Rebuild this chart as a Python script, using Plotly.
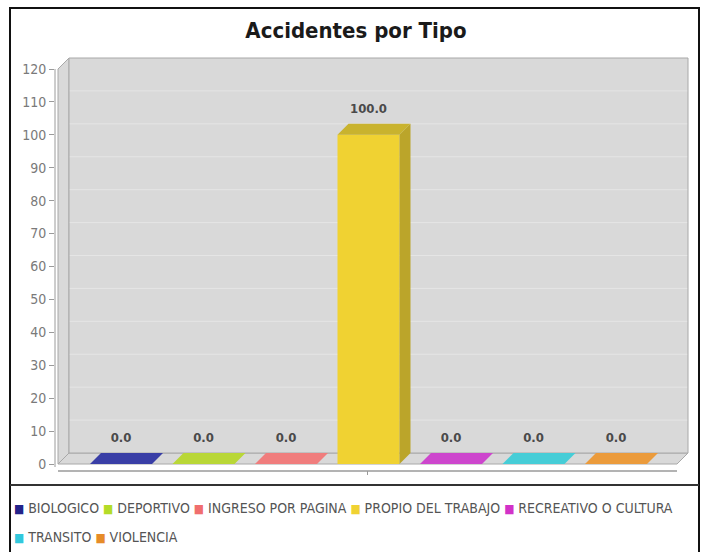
import plotly.graph_objects as go

# ---------------- data ----------------
title_text = "Accidentes por Tipo"
series = ["BIOLOGICO", "DEPORTIVO", "INGRESO POR PAGINA", "PROPIO DEL TRABAJO",
          "RECREATIVO O CULTURA", "TRANSITO", "VIOLENCIA"]
values = [0.0, 0.0, 0.0, 100.0, 0.0, 0.0, 0.0]
y_ticks = list(range(0, 121, 10))
colors = ["#23238a", "#b4dc28", "#f06e6e", "#f0d232", "#d232c8", "#32c8dc", "#e68c28"]
face_colors = ["#393ea6", "#b9d737", "#f07d7d", "#c9b32e", "#cd46cd", "#46cdd7", "#eb9b3c"]
side_colors = ["#2c3088", "#9fba2c", "#d06a6a", "#bba52a", "#ad3aad", "#3aadb5", "#c98232"]
legend_rows = [[0, 1, 2, 3, 4], [5, 6]]

# ---------------- layout constants (pixels) ----------------
W, H = 707, 552
L, R, T, B = 55, 690, 56, 477
CX0, CSTEP = 121.0, 82.5          # pixel centre of first category, spacing
ZERO_PX, TOP_PX = 464.0, 69.0     # pixel of value 0 and value 120
S = (ZERO_PX - TOP_PX) / 120.0    # px per unit
FRONT_L, FRONT_R = 58.0, 677.0
OFF = 11.0                        # 3d offset px
BAR_PX = 62.0
FONT = "DejaVu Sans Condensed, DejaVu Sans, sans-serif"

def xd(px):
    return (px - CX0) / CSTEP

def xp(px):
    return (px - L) / (R - L)

def yp(py):
    return (B - py) / (B - T)

DX = OFF / CSTEP
DY = OFF / S
BW = BAR_PX / CSTEP
fx0, fx1 = xd(FRONT_L), xd(FRONT_R)
ymax = y_ticks[-1]

fig = go.Figure()

# front faces
for i, (name, v) in enumerate(zip(series, values)):
    fig.add_trace(go.Bar(x=[i], y=[v], width=BW, name=name,
                         marker=dict(color=colors[i], line=dict(width=0)),
                         showlegend=False, hoverinfo="skip"))

# 3d faces
for i, v in enumerate(values):
    a, b = i - BW / 2, i + BW / 2
    if v > 0:
        fig.add_trace(go.Scatter(
            x=[b, b, b + DX, b + DX, b], y=[0, v, v + DY, DY, 0],
            mode="lines", fill="toself", fillcolor=side_colors[i],
            line=dict(width=0), showlegend=False, hoverinfo="skip"))
    fig.add_trace(go.Scatter(
        x=[a, a + DX, b + DX, b, a], y=[v, v + DY, v + DY, v, v],
        mode="lines", fill="toself", fillcolor=face_colors[i],
        line=dict(width=0), showlegend=False, hoverinfo="skip"))

# value labels
LABEL_OFF = 25.5 / S
fig.add_trace(go.Scatter(
    x=list(range(len(values))), y=[v + LABEL_OFF for v in values],
    text=[f"{v:.1f}" for v in values], mode="text",
    textfont=dict(family=FONT, size=13, color="#4a4a4a", weight="bold"),
    showlegend=False, hoverinfo="skip"))

shapes = []
WALL_FILL, WALL_LINE = "#d9d9d9", "#a8a8a8"
# left wall
shapes.append(dict(type="path", xref="x", yref="y", layer="below",
                   path=f"M {fx0},0 L {fx0},{ymax} L {fx0+DX},{ymax+DY} L {fx0+DX},{DY} Z",
                   fillcolor=WALL_FILL, line=dict(color=WALL_LINE, width=1)))
# floor
shapes.append(dict(type="path", xref="x", yref="y", layer="below",
                   path=f"M {fx0},0 L {fx0+DX},{DY} L {fx1+DX},{DY} L {fx1},0 Z",
                   fillcolor=WALL_FILL, line=dict(color=WALL_LINE, width=1)))
# back wall
shapes.append(dict(type="rect", xref="x", yref="y", layer="below",
                   x0=fx0 + DX, x1=fx1 + DX, y0=DY, y1=ymax + DY,
                   fillcolor=WALL_FILL, line=dict(color=WALL_LINE, width=1)))
# grid lines on back wall
for v in y_ticks[1:-1]:
    shapes.append(dict(type="line", xref="x", yref="y", layer="below",
                       x0=fx0 + DX + 0.01, x1=fx1 + DX - 0.01, y0=v + DY, y1=v + DY,
                       line=dict(color="#e5e5e5", width=1)))
# value axis line
shapes.append(dict(type="line", xref="paper", yref="y", x0=0, x1=0,
                   y0=-(467 - ZERO_PX) / S, y1=ymax,
                   line=dict(color="#9a9a9a", width=1)))
# category axis line + tick
cat_y = -(471 - ZERO_PX) / S
shapes.append(dict(type="line", xref="x", yref="y", x0=fx0, x1=fx1, y0=cat_y, y1=cat_y,
                   line=dict(color="#9a9a9a", width=1.5)))
mid = (fx0 + fx1) / 2
shapes.append(dict(type="line", xref="x", yref="y", x0=mid, x1=mid,
                   y0=cat_y, y1=-(475 - ZERO_PX) / S,
                   line=dict(color="#9a9a9a", width=1)))
# outer frame (bottom edge falls outside the picture) and legend separator
shapes.append(dict(type="path", xref="paper", yref="paper",
                   path=(f"M {xp(10)},{yp(560)} L {xp(10)},{yp(8)} "
                         f"L {xp(699)},{yp(8)} L {xp(699)},{yp(560)}"),
                   line=dict(color="#111111", width=2)))
shapes.append(dict(type="line", xref="paper", yref="paper",
                   x0=xp(10), x1=xp(699), y0=yp(485), y1=yp(485),
                   line=dict(color="#333333", width=2)))

# legend (manual, tight like the reference)
annotations = []
row_y = [508, 537]
for r, row in enumerate(legend_rows):
    parts = []
    for idx in row:
        parts.append(f"<span style='color:{colors[idx]};font-size:12px'>■</span> {series[idx]}")
    annotations.append(dict(xref="paper", yref="paper", x=xp(12), y=yp(row_y[r]),
                            xanchor="left", yanchor="middle", showarrow=False,
                            text=" ".join(parts),
                            font=dict(family=FONT, size=14, color="#555555")))

fig.update_layout(
    width=W, height=H, autosize=False,
    margin=dict(l=L, r=W - R, t=T, b=H - B, pad=0),
    paper_bgcolor="white", plot_bgcolor="rgba(0,0,0,0)",
    barmode="overlay", showlegend=False,
    title=dict(text=title_text, x=356 / W, xanchor="center", y=1 - 30 / H, yanchor="middle",
               font=dict(family=FONT, size=22, color="#1a1a1a", weight="bold")),
    xaxis=dict(range=[xd(L), xd(R)], visible=False, fixedrange=True),
    yaxis=dict(range=[-(B - ZERO_PX) / S, (ZERO_PX - T) / S], tickmode="array",
               tickvals=y_ticks, ticktext=[str(t) for t in y_ticks],
               showgrid=False, zeroline=False, showline=False,
               ticks="outside", ticklen=5, tickcolor="#9a9a9a",
               tickfont=dict(family=FONT, size=14, color="#7a7a7a"), fixedrange=True),
    shapes=shapes, annotations=annotations,
)

fig.write_html("out.html", config={"displayModeBar": False},
               post_script="document.body.style.margin='0px';")
